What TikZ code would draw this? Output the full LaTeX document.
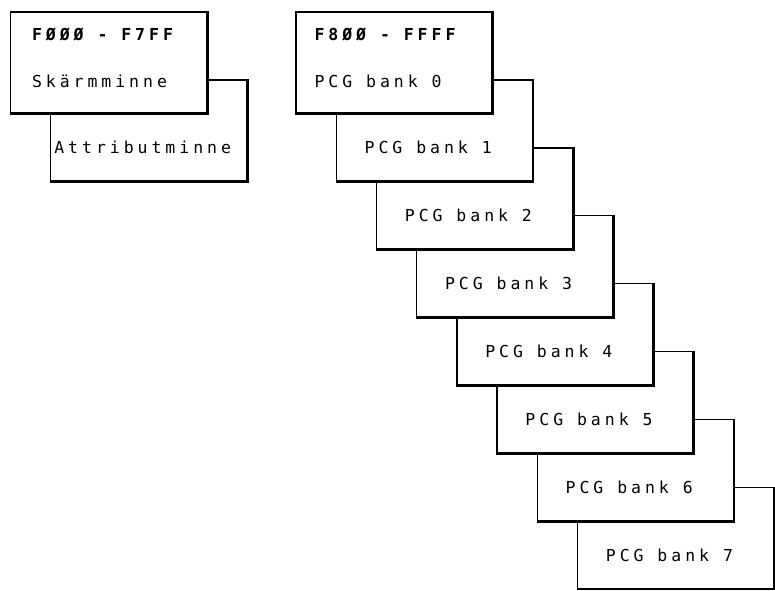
\documentclass[tikz,border=0pt]{standalone}
\usepackage{fontspec}
\newfontfamily\dotfont{DejaVu Sans Mono}[LetterSpace=24]
\usetikzlibrary{positioning}

\tikzset{
	txt/.style={font=\dotfont\fontsize{16.5}{19}\selectfont, inner sep=0pt},
	addr/.style={txt, font=\dotfont\bfseries\fontsize{16.5}{19}\selectfont},
	box/.style={draw, fill=white, line width=1.4pt, inner sep=0pt,
		minimum width=196pt, minimum height=101pt},
	bank/.style={box, label={[txt, anchor=center, xshift=-6pt, yshift=34pt]south:#1}},
	heavy/.style={line width=2.8pt}
}

\begin{document}
\begin{tikzpicture}[x=1pt,y=-1pt]
	\useasboundingbox (0,0) rectangle (775,590);

	% left: screen memory
	\node[bank=Attributminne] (attr) at (148.7,130.4) {};
	\node[box] (scr) at (108.5,62.5) {};
	\node[addr] (scrhi) [below right=23pt and 22pt of scr.north west, anchor=west] {FØØØ - F7FF};
	\node[txt] (scrlo) [below=47pt of scrhi.west, anchor=west] {Skärmminne};

	% right: PCG banks, back to front
	\node[bank=PCG bank 7] (b7) at (675.4,537.8) {};
	\node[bank=PCG bank 6] (b6) at (635.2,469.9) {};
	\node[bank=PCG bank 5] (b5) at (595.0,402.0) {};
	\node[bank=PCG bank 4] (b4) at (554.8,334.1) {};
	\node[bank=PCG bank 3] (b3) at (514.6,266.2) {};
	\node[bank=PCG bank 2] (b2) at (474.4,198.3) {};
	\node[bank=PCG bank 1] (b1) at (434.2,130.4) {};
	\node[box] (b0) at (394.0,62.5) {};
	\node[addr] (b0hi) [below right=23pt and 19pt of b0.north west, anchor=west] {F8ØØ - FFFF};
	\node[txt] (b0lo) [below=47pt of b0hi.west, anchor=west] {PCG bank 0};

	% heavier right and bottom edges
	\draw[heavy] (scr.north east) |- (scr.south west)
	(attr.north east) |- (attr.south west)
	(b0.north east) |- (b0.south west)
	(b1.north east) |- (b1.south west)
	(b2.north east) |- (b2.south west)
	(b3.north east) |- (b3.south west)
	(b4.north east) |- (b4.south west)
	(b5.north east) |- (b5.south west)
	(b6.north east) |- (b6.south west)
	(b7.north east) |- (b7.south west)
	;
\end{tikzpicture}
\end{document}
